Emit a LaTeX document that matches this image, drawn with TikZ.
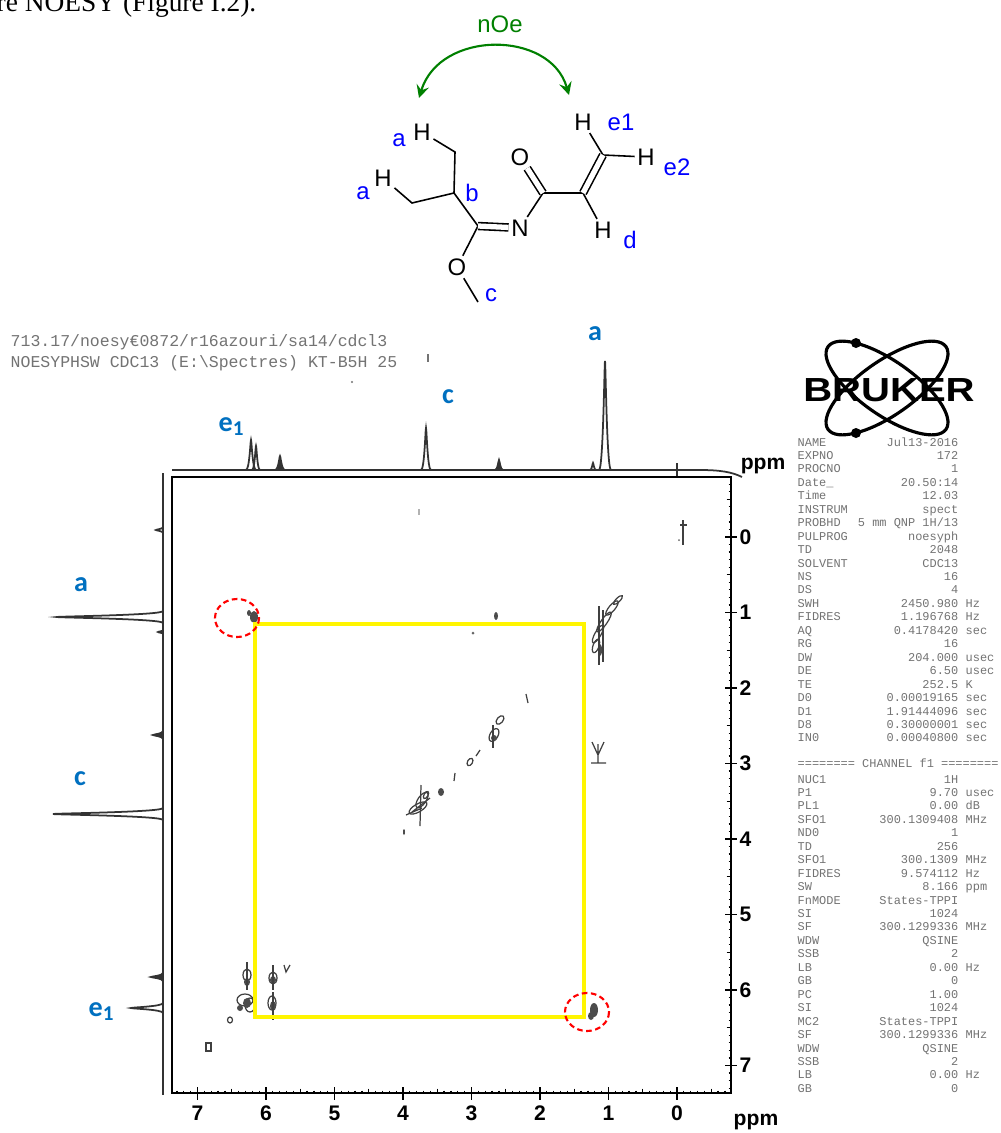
\documentclass[tikz,border=0pt]{standalone}
\usepackage{fontspec}
\setmainfont{Liberation Serif}
\setsansfont{Liberation Sans}
\setmonofont{Liberation Mono}
\newfontfamily\lblfont{Carlito}
\usetikzlibrary{arrows,calc}
\definecolor{labblue}{RGB}{0,112,192}
\definecolor{siteblue}{RGB}{0,0,255}
\definecolor{noegreen}{RGB}{0,128,0}
\definecolor{scangray}{RGB}{115,115,115}
\definecolor{boxyellow}{RGB}{255,245,0}

\tikzset{
  atom/.style={font=\sffamily\fontsize{6.8}{7}\selectfont, inner sep=0.6pt},
  site/.style={atom, text=siteblue},
  bond/.style={line width=0.45pt},
  dbl/.style={bond, double, double distance=1.5pt},
  pklabel/.style={font=\lblfont\bfseries\fontsize{8}{9}\selectfont, text=labblue, inner sep=0},
  spec/.style={line width=0.5pt, black!80},
  ctr/.style={line width=0.35pt, black!75},
  blob/.style={fill=black!70},
  axnum/.style={font=\sffamily\bfseries\fontsize{6}{7}\selectfont, inner sep=0},
  scan/.style={font=\ttfamily\fontsize{3.4}{4}\selectfont, text=scangray, inner sep=0},
  hdr/.style={font=\ttfamily\fontsize{4.7}{5}\selectfont, text=scangray, anchor=base west, inner sep=0},
  ncirc/.style={red, line width=0.6pt, dash pattern=on 1.6pt off 1pt},
}

\begin{document}
\begin{tikzpicture}[x=0.1mm,y=-0.1mm]
\useasboundingbox (0,0) rectangle (1000,1133);
\fill[white] (0,0) rectangle (1000,1133);

% caption line, cut at the top
\node[anchor=base west, inner sep=0, font=\fontsize{7.8}{8}\selectfont] (cap) at (-4,11) {re NOESY (Figure I.2).};

% molecule
\coordinate (c1) at (455,152);
\coordinate (cb) at (454,193);
\coordinate (c2) at (412,203);
\coordinate (ci) at (478,226);
\coordinate (cm) at (478,302);
\coordinate (cc) at (543,193);
\coordinate (cv) at (583,193);
\coordinate (ct) at (603,155);
\node[atom] (Hup) at (422,132) {H};
\node[atom] (Hlo) at (383,178) {H};
\node[atom] (N) at (520,228) {N};
\node[atom] (Oe) at (457,267) {O};
\node[atom] (Oc) at (520,157) {O};
\node[atom] (He1) at (583,122) {H};
\node[atom] (He2) at (646,157) {H};
\node[atom] (Hd) at (603,230) {H};
\node[site] (sa1) at (399,140) {a};
\node[site] (sa2) at (363,193) {a};
\node[site] (sb) at (472,193) {b};
\node[site] (sc) at (491,295) {c};
\node[site] (se1) at (621,122) {e1};
\node[site] (se2) at (677,167) {e2};
\node[site] (sd) at (630,240) {d};
\draw[bond] (Hup) -- (c1) -- (cb) -- (c2) -- (Hlo);
\draw[bond] (cb) -- (ci) -- (Oe) -- (cm);
\draw[bond] (N) -- (cc) -- (cv) -- (Hd);
\draw[bond] (He1) -- (ct) -- (He2);
\draw[dbl] (ci) -- (N);
\draw[dbl] (cc) -- (Oc);
\draw[dbl] (cv) -- (ct);

% nOe arrow
\node[atom, text=noegreen] (noe) at (500,24) {nOe};
\coordinate (noeL) at (419,98);
\coordinate (noeR) at (569,95);
\draw[noegreen, line width=0.6pt, stealth-stealth] (noeL) .. controls (440,30) and (550,30) .. (noeR);

% acquisition header
\node[hdr] (h1) at (10,346) {713.17/noesy€0872/r16azouri/sa14/cdcl3};
\node[hdr] (h2) at (10,367) {NOESYPHSW CDC13 (E:\textbackslash Spectres) KT-B5H 25};
\draw[scangray, line width=0.3pt] (428,354) -- (428,362);
\fill[scangray] (352,382) circle (1.2);

% projections
\draw[spec] (172,470) -- (700,470) .. controls (720,470) and (732,472) .. (742,477);
\foreach \px/\pt/\pw in {251/440/5, 256/446/4, 280/456/5, 426/428/5, 499/460/4, 593/463/3, 605/361/6}
  \draw[spec] (\px-\pw,470) .. controls (\px-0.3*\pw,470) and (\px-0.6,\pt) .. (\px,\pt)
    .. controls (\px+0.6,\pt) and (\px+0.3*\pw,470) .. (\px+\pw,470);
\fill[black!80] (277,470) -- (280,457) -- (283,470) -- cycle;
\fill[black!80] (496,470) -- (499,461) -- (502,470) -- cycle;
\draw[spec] (677,463) -- (677,476);
\draw[spec] (163,473) -- (163,1095);
\foreach \py/\pl/\pw in {530/156/3, 617/57/6, 632/158/2, 735/153/4, 814/53/6, 977/151/4, 1008/131/5}
  \draw[spec] (163,\py-\pw) .. controls (163,\py-0.3*\pw) and (\pl,\py-0.6) .. (\pl,\py)
    .. controls (\pl,\py+0.6) and (163,\py+0.3*\pw) .. (163,\py+\pw);
\fill[black!80] (163,732) -- (153,735) -- (163,738) -- cycle;
\fill[black!80] (163,974) -- (151,977) -- (163,980) -- cycle;

% frame and axes
\draw[line width=0.5pt] (172,477) rectangle (731,1093);
\foreach \k in {-7,...,73}{
  \pgfmathsetmacro\tl{mod(\k,10)==0 ? 6 : (mod(\k,5)==0 ? 4.5 : 2.5)}
  \draw[line width=0.35pt] (677-6.85*\k,1093-\tl) -- (677-6.85*\k,1093);
  \draw[line width=0.35pt] (731-\tl,537+7.55*\k) -- (731,537+7.55*\k);
}
\foreach \d in {0,...,7}{
  \draw[line width=0.5pt] (677-68.5*\d,1093) -- ++(0,7);
  \draw[line width=0.5pt] (731,537+75.5*\d) -- ++(6,0);
  \node[axnum] (bx\d) at (677-68.5*\d,1113) {\d};
  \node[axnum, anchor=west] (ry\d) at (739,537+75.5*\d) {\d};
}
\node[axnum] (ppmb) at (756,1122) {ppm};
\node[axnum] (ppmr) at (763,466) {ppm};

% cross peaks
\foreach \cx/\cy/\rx/\ry/\an in {604/622/12/3/55, 598/634/10/3/60, 612/608/9/3/50, 596/646/7/3/70, 618/600/6/2/45,
    500/720/5/3/50, 494/735/7/4/60, 470/762/4/2.5/60, 422/800/9/4/55, 418/808/10/4/30, 426/795/4/2/60,
    247/975/4/6/0, 245/1000/8/6/0, 250/1005/5/7/0, 273/978/4/6/0, 272/1003/4/7/0, 230/1020/2.5/3/0}
  \draw[ctr, rotate around={\an:(\cx,\cy)}] (\cx,\cy) ellipse ({\rx} and {\ry});
\foreach \cx/\cy/\rx/\ry in {254/617/4/6, 249/613/2/3, 600/650/2/6, 441/792/3/4, 404/832/1/3, 494/738/3/3,
    247/982/3/4, 247/1003/4/5, 240/1008/3/3, 273/980/3/4, 273/1006/3/5, 594/1010/4/7, 591/1016/3/4, 496/616/2/4}
  \fill[black!70] (\cx,\cy) ellipse ({\rx} and {\ry});
\fill[black!60] (473,633) circle (1.5);
\draw[ctr] (599,606) -- (599,665) (603,610) -- (603,662);
\draw[ctr] (592,742) -- (598,755) -- (604,742) (598,744) -- (598,762) (591,763) -- (606,763);
\draw[ctr] (526,694) -- (528,703) (476,756) -- (480,750) (455,773) -- (454,781);
\draw[ctr] (493,725) -- (493,748);
\draw[ctr] (421,785) -- (420,826) (412,812) -- (430,798) (406,815) -- (422,808);
\draw[ctr] (247,962) -- (247,990) (273,965) -- (273,990) (273,992) -- (273,1020);
\draw[ctr] (284,965) -- (286,972) -- (290,965);
\draw[ctr] (206,1043) rectangle (211,1051);
\draw[ctr] (683,520) -- (683,545) (680,525) -- (687,525);
\fill[black!60] (679,540) circle (1);
\draw[black!30, line width=0.3pt] (419,509) -- (419,515);

% highlighted region
\draw[boxyellow, line width=1.1pt] (255,624) rectangle (584,1017);
\draw[ncirc] (237,618) ellipse (22 and 19);
\draw[ncirc] (587,1012) ellipse (22 and 19);

% peak labels
\node[pklabel] (ta) at (595,334) {a};
\node[pklabel] (tc) at (448,397) {c};
\node[pklabel] (te) at (232,427) {e\textsubscript{1}};
\node[pklabel] (la) at (81,585) {a};
\node[pklabel] (lc) at (80,779) {c};
\node[pklabel] (le) at (102,1012) {e\textsubscript{1}};

% Bruker logo
\draw[line width=0.9pt, rotate around={-35:(887,388)}] (887,388) ellipse (72 and 27);
\draw[line width=0.9pt, rotate around={35:(887,388)}] (887,388) ellipse (72 and 27);
\fill (856,343) circle (5);
\fill (856,433) circle (5);
\node[font=\sffamily\bfseries\fontsize{9.5}{10}\selectfont, inner sep=0] (brk) at (889,390) {\scalebox{1.2}[1]{BRUKER}};

% parameter table
\foreach \nm/\vl/\un [count=\i from 0] in {NAME/Jul13-2016/, EXPNO/172/, PROCNO/1/, Date\_/20.50:14/, Time/12.03/,
    INSTRUM/spect/, PROBHD/{5 mm QNP 1H/13}/, PULPROG/noesyph/, TD/2048/, SOLVENT/CDC13/, NS/16/, DS/4/,
    SWH/2450.980/Hz, FIDRES/1.196768/Hz, AQ/0.4178420/sec, RG/16/, DW/204.000/usec, DE/6.50/usec,
    TE/252.5/K, D0/0.00019165/sec, D1/1.91444096/sec, D8/0.30000001/sec, IN0/0.00040800/sec}{
  \node[scan, anchor=base west] (pa\i) at (797,446+13.45*\i) {\nm};
  \node[scan, anchor=base east] (pv\i) at (959,446+13.45*\i) {\vl};
  \node[scan, anchor=base west] (pu\i) at (965,446+13.45*\i) {\un};
}
\node[scan, anchor=base west] (chan) at (797,767) {======== CHANNEL f1 ========};
\foreach \nm/\vl/\un [count=\i from 0] in {NUC1/1H/, P1/9.70/usec, PL1/0.00/dB, SFO1/300.1309408/MHz, ND0/1/,
    TD/256/, SFO1/300.1309/MHz, FIDRES/9.574112/Hz, SW/8.166/ppm, FnMODE/States-TPPI/, SI/1024/,
    SF/300.1299336/MHz, WDW/QSINE/, SSB/2/, LB/0.00/Hz, GB/0/, PC/1.00/, SI/1024/, MC2/States-TPPI/,
    SF/300.1299336/MHz, WDW/QSINE/, SSB/2/, LB/0.00/Hz, GB/0/}{
  \node[scan, anchor=base west] (qa\i) at (797,783+13.45*\i) {\nm};
  \node[scan, anchor=base east] (qv\i) at (959,783+13.45*\i) {\vl};
  \node[scan, anchor=base west] (qu\i) at (965,783+13.45*\i) {\un};
}
\end{tikzpicture}
\end{document}
